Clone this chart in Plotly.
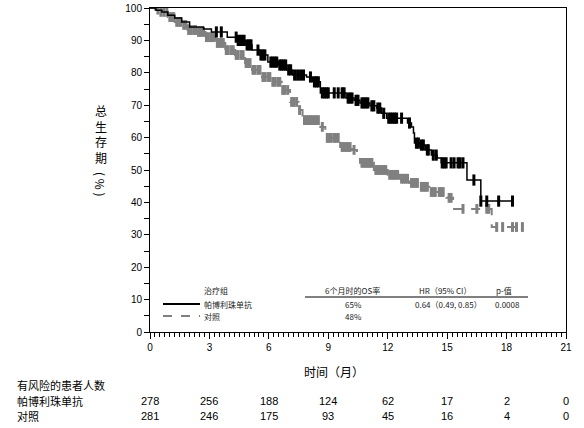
import numpy as np
import plotly.graph_objects as go

# ---------------- data ----------------
# Kaplan-Meier step points (time in months, survival %)
pembro_t = [0, 0.3, 0.6, 0.9, 1.25, 1.6, 2.0, 2.7, 3.1, 3.9, 4.4, 4.8, 5.15, 5.55, 5.95,
            6.5, 6.9, 7.2, 7.9, 8.2, 8.6, 9.9, 10.3, 10.6, 11.1, 11.45, 11.7, 11.95, 13.0,
            13.2, 13.3, 13.35, 13.6, 13.9, 14.2, 14.5, 14.7, 16.0, 16.7, 18.3]
pembro_s = [100, 99.3, 98.8, 97.8, 96.9, 95.7, 94.1, 93.5, 92.6, 91.0, 90.0, 88.6, 87.0, 85.5, 83.3,
            82.4, 80.9, 79.3, 78.7, 77.2, 73.8, 72.2, 71.5, 70.7, 69.8, 69.1, 67.5, 66.0, 64.5,
            63.3, 61.4, 58.3, 57.7, 56.2, 54.6, 53.7, 52.2, 46.9, 40.4, 40.4]
pembro_cens = [3.35, 3.6, 4.35, 4.45, 4.55, 4.65, 4.75, 4.9, 5.0, 5.1, 5.45, 5.6, 5.7, 5.8, 6.1,
               6.2, 6.3, 6.4, 6.55, 6.65, 6.75, 6.85, 7.0, 7.1, 7.3, 7.45, 7.6, 7.75, 8.1, 8.3,
               8.4, 8.5, 8.7, 8.8, 8.9, 9.0, 9.3, 9.5, 9.7, 9.8, 10.0, 10.1, 10.2, 10.4, 10.5,
               10.7, 10.8, 10.9, 11.0, 11.2, 11.3, 11.5, 11.6, 11.8, 12.05, 12.15, 12.25, 12.35,
               12.45, 12.7, 13.1, 13.45, 13.55, 13.7, 13.8, 14.0, 14.05, 14.3, 14.45, 14.75,
               14.85, 14.95, 15.2, 15.35, 15.55, 15.65, 15.8, 16.35, 16.7, 17.0, 17.6, 18.3]

ctrl_t = [0, 0.25, 0.5, 0.9, 1.25, 1.6, 1.9, 2.35, 2.8, 3.3, 3.8, 4.3, 4.8, 5.15, 5.65, 6.15,
          6.65, 7.07, 7.5, 7.7, 8.6, 8.85, 9.6, 10.2, 10.45, 10.6, 11.3, 12.0, 12.6, 13.1, 13.6,
          14.1, 14.95, 15.3, 15.35, 17.25, 18.8]
ctrl_s = [100, 99.5, 98.8, 97.2, 95.7, 94.8, 93.2, 92.6, 91.0, 89.2, 87.0, 85.5, 83.0, 80.9, 78.7, 77.2,
          74.7, 71.0, 68.5, 65.4, 63.3, 59.9, 57.1, 56.2, 54.0, 52.2, 50.0, 48.5, 47.3, 46.0, 44.8,
          43.2, 41.4, 40.7, 38.0, 32.4, 32.4]
ctrl_cens = [0.4, 0.55, 0.7, 0.85, 1.0, 1.1, 1.2, 1.35, 1.45, 1.55, 1.7, 1.8, 1.95, 2.05, 2.2, 2.3,
             2.45, 2.55, 2.7, 2.85, 2.95, 3.1, 3.2, 3.4, 3.5, 3.6, 3.7, 3.85, 3.95, 4.1, 4.2, 4.35,
             4.45, 4.6, 4.7, 4.85, 4.95, 5.05, 5.2, 5.3, 5.45, 5.55, 5.7, 5.8, 5.95, 6.05, 6.2, 6.3,
             6.45, 6.55, 6.7, 6.8, 6.95, 7.15, 7.25, 7.4, 7.55, 7.8, 7.9, 8.0, 8.1, 8.2, 8.3, 8.4,
             8.5, 8.7, 8.95, 9.05, 9.15, 9.3, 9.4, 9.5, 9.7, 9.8, 9.9, 10.0, 10.1, 10.3, 10.7, 10.8,
             10.9, 11.0, 11.1, 11.2, 11.4, 11.5, 11.6, 11.7, 11.8, 11.9, 12.1, 12.2, 12.3, 12.4,
             12.5, 12.7, 12.8, 12.9, 13.0, 13.2, 13.3, 13.4, 13.5, 13.7, 13.8, 13.9, 14.0, 14.2,
             14.3, 14.4, 14.6, 14.7, 14.8, 15.1, 15.2, 15.8, 16.5, 17.0, 17.1, 17.5, 17.8, 18.3,
             18.5, 18.8]

risk_times = [0, 3, 6, 9, 12, 15, 18, 21]
risk_pembro = [278, 256, 188, 124, 62, 17, 2, 0]
risk_ctrl = [281, 246, 175, 93, 45, 16, 4, 0]

x_ticks = [0, 3, 6, 9, 12, 15, 18, 21]
y_ticks = [0, 10, 20, 30, 40, 50, 60, 70, 80, 90, 100]

grp_names = ["帕博利珠单抗", "对照"]
os6 = ["65%", "48%"]
hr_text = "0.64（0.49, 0.85）"
p_text = "0.0008"

# ---------------- helpers ----------------
FONT = "Liberation Sans, Arial, Noto Sans CJK SC, sans-serif"
CJK = "Noto Sans CJK SC, Liberation Sans, sans-serif"
W, H = 584, 428
PL, PR, PT, PB = 150, 566, 8, 332          # plot-area edges in page pixels
L, R, T, B = PL, W - PR, PT, H - PB
PW, PH = PR - PL, PB - PT


def px(x):
    return (x - PL) / PW


def py(y):
    return (PB - y) / PH


def step_val(times, surv, t):
    i = np.searchsorted(np.array(times), t, side="right") - 1
    return surv[max(i, 0)]


GRAY = "#808080"

fig = go.Figure()

# curves
fig.add_trace(go.Scatter(x=ctrl_t, y=ctrl_s, mode="lines", line_shape="hv",
                         line=dict(color=GRAY, width=2, dash="dash"), hoverinfo="skip"))
fig.add_trace(go.Scatter(x=ctrl_cens, y=[step_val(ctrl_t, ctrl_s, t) for t in ctrl_cens],
                         mode="markers",
                         marker=dict(symbol="line-ns", size=7, color=GRAY,
                                     line=dict(color=GRAY, width=3)), hoverinfo="skip"))
fig.add_trace(go.Scatter(x=pembro_t, y=pembro_s, mode="lines", line_shape="hv",
                         line=dict(color="black", width=1.5), hoverinfo="skip"))
fig.add_trace(go.Scatter(x=pembro_cens, y=[step_val(pembro_t, pembro_s, t) for t in pembro_cens],
                         mode="markers",
                         marker=dict(symbol="line-ns", size=8, color="black",
                                     line=dict(color="black", width=3)), hoverinfo="skip"))

ann = []
# legend-table inside plot
small = dict(family=CJK, size=8, color="#222")
ann.append(dict(x=px(202), y=py(290), text="治疗组", xanchor="left", font=small))
ann.append(dict(x=px(202), y=py(304), text=grp_names[0], xanchor="left", font=small))
ann.append(dict(x=px(202), y=py(316), text=grp_names[1], xanchor="left", font=small))
ann.append(dict(x=px(352), y=py(290), text="6个月时的OS率", xanchor="center", font=small))
ann.append(dict(x=px(353), y=py(304), text=os6[0], xanchor="center", font=small))
ann.append(dict(x=px(353), y=py(316), text=os6[1], xanchor="center", font=small))
ann.append(dict(x=px(445), y=py(290), text="HR（95% CI）", xanchor="center", font=small))
ann.append(dict(x=px(448), y=py(304), text=hr_text, xanchor="center", font=small))
ann.append(dict(x=px(504), y=py(290), text="p-值", xanchor="center", font=small))
ann.append(dict(x=px(507), y=py(304), text=p_text, xanchor="center", font=small))

# axis titles (vertical stacked CJK, rotated "(%)")
ttl = dict(family=CJK, size=12, color="black")
ann.append(dict(x=px(101), y=py(134), text="总<br>生<br>存<br>期",
                xanchor="center", yanchor="middle", font=ttl))
ann.append(dict(x=px(101), y=py(184), text="( % )", textangle=90,
                xanchor="center", yanchor="middle", font=ttl))
ann.append(dict(x=px(334), y=py(371), text="时间（月）", xanchor="center", yanchor="middle",
                font=ttl))

# risk table
big = dict(family=CJK, size=11, color="black")
ann.append(dict(x=px(15), y=py(385), text="有风险的患者人数", xanchor="left", font=big))
ann.append(dict(x=px(15), y=py(401), text=grp_names[0], xanchor="left", font=big))
ann.append(dict(x=px(15), y=py(416), text=grp_names[1], xanchor="left", font=big))
numf = dict(family=FONT, size=11, color="black")
for t, a, b in zip(risk_times, risk_pembro, risk_ctrl):
    ann.append(dict(x=t, xref="x", y=py(401), text=str(a), xanchor="center", font=numf))
    ann.append(dict(x=t, xref="x", y=py(416), text=str(b), xanchor="center", font=numf))

for a in ann:
    a.setdefault("xref", "paper")
    a.setdefault("yref", "paper")
    a.setdefault("yanchor", "middle")
    a["showarrow"] = False

shapes = [
    dict(type="line", xref="paper", yref="paper", x0=px(305), x1=px(528), y0=py(297), y1=py(297),
         line=dict(color="black", width=1)),
    dict(type="line", xref="paper", yref="paper", x0=px(163), x1=px(200), y0=py(304), y1=py(304),
         line=dict(color="black", width=2)),
    dict(type="line", xref="paper", yref="paper", x0=px(163), x1=px(200), y0=py(316), y1=py(316),
         line=dict(color=GRAY, width=2, dash="dash")),
]

fig.update_layout(
    width=W, height=H,
    margin=dict(l=L, r=R, t=T, b=B, pad=0, autoexpand=False),
    paper_bgcolor="white", plot_bgcolor="white",
    showlegend=False,
    annotations=ann, shapes=shapes,
    font=dict(family=FONT, size=10, color="black"),
    xaxis=dict(range=[0, 21], tickvals=x_ticks, ticktext=[str(v) for v in x_ticks],
               showgrid=False, zeroline=False, showline=True, linecolor="black", linewidth=1,
               mirror=True, ticks="outside", ticklen=6, tickwidth=1, tickcolor="black",
               tickfont=dict(family=FONT, size=10),
               minor=dict(dtick=0.25, tick0=0, ticks="outside", ticklen=4, tickcolor="black",
                          tickwidth=1, showgrid=False)),
    yaxis=dict(range=[0, 100], tickvals=y_ticks, ticktext=[str(v) for v in y_ticks],
               showgrid=False, zeroline=False, showline=True, linecolor="black", linewidth=1,
               mirror=True, ticks="outside", ticklen=5, tickwidth=1, tickcolor="black",
               tickfont=dict(family=FONT, size=10),
               minor=dict(dtick=5, tick0=0, ticks="outside", ticklen=5, tickcolor="black",
                          tickwidth=1, showgrid=False)),
)

fig.write_html("out.html", config={"displayModeBar": False},
               post_script="document.body.style.margin='0';document.body.style.overflow='hidden';")
